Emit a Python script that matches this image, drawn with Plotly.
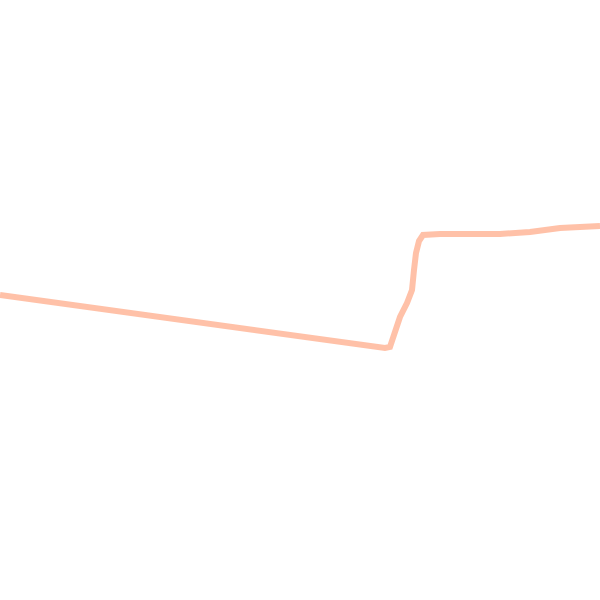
import plotly.graph_objects as go

x_vals = [0, 100, 200, 300, 385, 390, 395, 400, 407, 412, 414, 416, 419, 423, 440, 470, 500, 530, 560, 600]
y_vals = [305, 291, 277, 264, 252, 253, 270, 283, 297, 310, 330, 347, 359, 365, 366, 366, 366, 368, 372, 374]

fig = go.Figure()
fig.add_trace(go.Scatter(
    x=x_vals, y=y_vals, mode="lines",
    line=dict(color="rgba(255,160,122,0.65)", width=6),
    hoverinfo="skip", showlegend=False,
))
fig.update_layout(
    width=600, height=600,
    margin=dict(l=0, r=0, t=0, b=0),
    paper_bgcolor="white", plot_bgcolor="white",
    xaxis=dict(range=[0, 600], visible=False, fixedrange=True),
    yaxis=dict(range=[0, 600], visible=False, fixedrange=True),
)
fig.write_html(
    "out.html",
    config={"displayModeBar": False, "staticPlot": True},
    post_script="document.body.style.margin='0';document.body.style.overflow='hidden';",
)
